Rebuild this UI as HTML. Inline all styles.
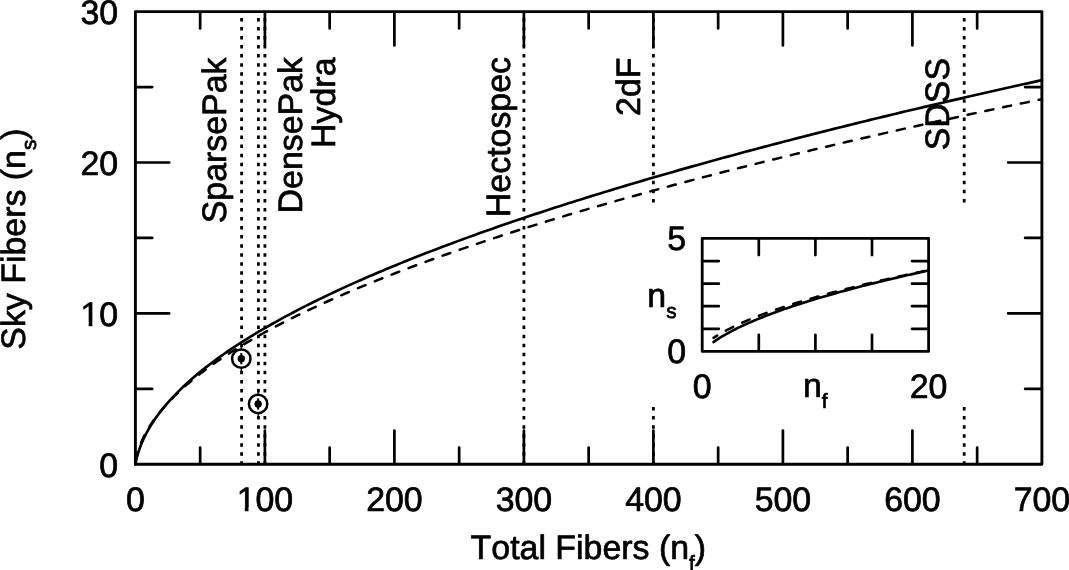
<!DOCTYPE html>
<html><head><meta charset="utf-8"><title>Sky Fibers vs Total Fibers</title>
<style>html,body{margin:0;padding:0;background:#fff}body{width:1069px;height:570px;overflow:hidden}</style></head>
<body>
<svg width="1069" height="570" viewBox="0 0 1069 570" style="display:block">
<rect width="1069" height="570" fill="#fff"/>
<g fill="none" stroke="#000" stroke-width="2.9">
<path d="M241.59 464.85V15" stroke-dasharray="3.5 5.55" stroke-width="2.8"/>
<path d="M258.43 464.85V15" stroke-dasharray="3.5 5.55" stroke-width="2.8"/>
<path d="M264.90 464.85V15" stroke-dasharray="3.5 5.55" stroke-width="2.8"/>
<path d="M523.90 464.85V15" stroke-dasharray="3.5 5.55" stroke-width="2.8"/>
<path d="M653.40 464.85V15" stroke-dasharray="3.5 5.55" stroke-width="2.8"/>
<path d="M964.20 464.85V15" stroke-dasharray="3.5 5.55" stroke-width="2.8"/>
</g>
<rect x="640" y="206" width="335" height="201" fill="#fff"/>
<g fill="none" stroke="#000" stroke-width="2.9">
<rect x="135.4" y="11.6" width="906.50" height="452.70" stroke-linejoin="round"/>
<path d="M200.15 463.30v-15.80M200.15 12.60v15.80M264.90 463.30v-32.80M264.90 12.60v32.80M329.65 463.30v-15.80M329.65 12.60v15.80M394.40 463.30v-32.80M394.40 12.60v32.80M459.15 463.30v-15.80M459.15 12.60v15.80M523.90 463.30v-32.80M523.90 12.60v32.80M588.65 463.30v-15.80M588.65 12.60v15.80M653.40 463.30v-32.80M653.40 12.60v32.80M718.15 463.30v-15.80M718.15 12.60v15.80M782.90 463.30v-32.80M782.90 12.60v32.80M847.65 463.30v-15.80M847.65 12.60v15.80M912.40 463.30v-32.80M912.40 12.60v32.80M977.15 463.30v-15.80M977.15 12.60v15.80M136.40 388.85h15.80M1040.90 388.85h-15.80M136.40 313.40h32.80M1040.90 313.40h-32.80M136.40 237.95h15.80M1040.90 237.95h-15.80M136.40 162.50h32.80M1040.90 162.50h-32.80M136.40 87.05h15.80M1040.90 87.05h-15.80" stroke-width="2.7" stroke-linecap="round"/>
<polyline points="135.40,464.30 135.84,461.93 136.28,459.84 136.72,457.96 137.16,456.23 137.59,454.62 138.03,453.11 138.47,451.68 138.91,450.32 139.35,449.02 139.79,447.77 140.23,446.58 140.67,445.42 141.11,444.30 141.55,443.22 141.98,442.17 142.42,441.14 142.86,440.15 143.30,439.18 143.74,438.23 144.18,437.30 144.62,436.39 145.06,435.51 145.50,434.63 145.94,433.78 146.37,432.94 146.81,432.12 147.25,431.31 147.69,430.51 148.13,429.73 148.57,428.96 149.01,428.20 149.45,427.45 149.89,426.71 150.33,425.98 150.76,425.27 151.20,424.56 151.64,423.86 152.08,423.17 152.52,422.49 152.96,421.81 153.40,421.15 153.84,420.49 154.28,419.83 154.72,419.19 155.15,418.55 155.59,417.92 156.03,417.30 156.47,416.68 156.91,416.07 157.35,415.46 157.79,414.86 158.23,414.26 158.67,413.67 159.11,413.09 159.54,412.51 159.98,411.93 160.42,411.36 160.86,410.80 161.30,410.24 165.73,404.82 170.15,399.78 174.58,395.03 179.00,390.54 183.43,386.26 187.85,382.18 192.28,378.25 196.70,374.48 201.13,370.83 205.55,367.31 209.98,363.89 214.40,360.57 218.83,357.34 223.25,354.19 227.68,351.12 232.10,348.12 236.53,345.19 240.95,342.32 245.38,339.51 249.80,336.76 254.23,334.06 258.65,331.40 263.08,328.80 267.50,326.24 271.93,323.72 276.35,321.24 280.78,318.80 285.20,316.39 289.63,314.02 294.05,311.69 298.48,309.38 302.90,307.11 307.33,304.86 311.75,302.65 316.18,300.46 320.60,298.30 325.03,296.16 329.45,294.05 333.88,291.97 338.31,289.90 342.73,287.86 347.16,285.84 351.58,283.84 356.01,281.86 360.43,279.90 364.86,277.96 369.28,276.04 373.71,274.13 378.13,272.25 382.56,270.38 386.98,268.52 391.41,266.69 395.83,264.86 400.26,263.06 404.68,261.27 409.11,259.49 413.53,257.73 417.96,255.98 422.38,254.25 426.81,252.52 431.23,250.82 435.66,249.12 440.08,247.44 444.51,245.77 448.93,244.11 453.36,242.46 457.78,240.82 462.21,239.20 466.63,237.58 471.06,235.98 475.48,234.39 479.91,232.80 484.33,231.23 488.76,229.67 493.18,228.11 497.61,226.57 502.03,225.04 506.46,223.51 510.88,222.00 515.31,220.49 519.74,218.99 524.16,217.50 528.59,216.02 533.01,214.55 537.44,213.08 541.86,211.62 546.29,210.18 550.71,208.73 555.14,207.30 559.56,205.87 563.99,204.46 568.41,203.04 572.84,201.64 577.26,200.24 581.69,198.85 586.11,197.47 590.54,196.09 594.96,194.72 599.39,193.36 603.81,192.00 608.24,190.65 612.66,189.31 617.09,187.97 621.51,186.64 625.94,185.31 630.36,183.99 634.79,182.68 639.21,181.37 643.64,180.07 648.06,178.77 652.49,177.48 656.91,176.19 661.34,174.91 665.76,173.64 670.19,172.37 674.61,171.10 679.04,169.84 683.46,168.59 687.89,167.34 692.32,166.10 696.74,164.86 701.17,163.62 705.59,162.39 710.02,161.17 714.44,159.95 718.87,158.73 723.29,157.52 727.72,156.31 732.14,155.11 736.57,153.91 740.99,152.72 745.42,151.53 749.84,150.35 754.27,149.17 758.69,147.99 763.12,146.82 767.54,145.65 771.97,144.49 776.39,143.33 780.82,142.17 785.24,141.02 789.67,139.87 794.09,138.73 798.52,137.59 802.94,136.45 807.37,135.32 811.79,134.19 816.22,133.07 820.64,131.94 825.07,130.83 829.49,129.71 833.92,128.60 838.34,127.49 842.77,126.39 847.19,125.29 851.62,124.19 856.04,123.10 860.47,122.01 864.89,120.92 869.32,119.84 873.75,118.76 878.17,117.68 882.60,116.61 887.02,115.54 891.45,114.47 895.87,113.40 900.30,112.34 904.72,111.28 909.15,110.23 913.57,109.18 918.00,108.13 922.42,107.08 926.85,106.04 931.27,105.00 935.70,103.96 940.12,102.92 944.55,101.89 948.97,100.86 953.40,99.84 957.82,98.81 962.25,97.79 966.67,96.77 971.10,95.76 975.52,94.74 979.95,93.73 984.37,92.73 988.80,91.72 993.22,90.72 997.65,89.72 1002.07,88.72 1006.50,87.73 1010.92,86.74 1015.35,85.75 1019.77,84.76 1024.20,83.78 1028.62,82.79 1033.05,81.81 1037.47,80.84 1041.90,79.86" stroke-width="2.65" stroke-linejoin="round" stroke-linecap="round" transform="translate(0,0.3)"/>
<polyline points="136.72,455.19 137.16,453.57 137.59,452.05 138.03,450.63 138.47,449.28 138.91,448.00 139.35,446.78 139.79,445.60 140.23,444.47 140.67,443.37 141.11,442.32 141.55,441.29 141.98,440.30 142.42,439.33 142.86,438.38 143.30,437.46 143.74,436.56 144.18,435.69 144.62,434.83 145.06,433.98 145.50,433.16 145.94,432.35 146.37,431.55 146.81,430.77 147.25,430.00 147.69,429.25 148.13,428.51 148.57,427.78 149.01,427.06 149.45,426.35 149.89,425.65 150.33,424.96 150.76,424.28 151.20,423.60 151.64,422.94 152.08,422.29 152.52,421.64 152.96,421.00 153.40,420.37 153.84,419.74 154.28,419.12 154.72,418.51 155.15,417.91 155.59,417.31 156.03,416.72 156.47,416.13 156.91,415.55 157.35,414.98 157.79,414.41 158.23,413.84 158.67,413.28 159.11,412.73 159.54,412.18 159.98,411.63 160.42,411.09 160.86,410.56 161.30,410.03 165.73,404.89 170.15,400.11 174.58,395.62 179.00,391.36 183.43,387.31 187.85,383.44 192.28,379.73 196.70,376.16 201.13,372.71 205.55,369.37 209.98,366.14 214.40,363.00 218.83,359.94 223.25,356.97 227.68,354.07 232.10,351.23 236.53,348.46 240.95,345.75 245.38,343.10 249.80,340.50 254.23,337.95 258.65,335.44 263.08,332.98 267.50,330.56 271.93,328.18 276.35,325.84 280.78,323.54 285.20,321.27 289.63,319.03 294.05,316.83 298.48,314.66 302.90,312.51 307.33,310.39 311.75,308.31 316.18,306.24 320.60,304.20 325.03,302.19 329.45,300.20 333.88,298.23 338.31,296.29 342.73,294.36 347.16,292.46 351.58,290.57 356.01,288.71 360.43,286.86 364.86,285.03 369.28,283.22 373.71,281.42 378.13,279.65 382.56,277.89 386.98,276.14 391.41,274.41 395.83,272.69 400.26,270.99 404.68,269.31 409.11,267.63 413.53,265.97 417.96,264.33 422.38,262.69 426.81,261.07 431.23,259.46 435.66,257.87 440.08,256.28 444.51,254.71 448.93,253.15 453.36,251.60 457.78,250.06 462.21,248.53 466.63,247.01 471.06,245.50 475.48,244.00 479.91,242.51 484.33,241.03 488.76,239.56 493.18,238.10 497.61,236.65 502.03,235.20 506.46,233.77 510.88,232.34 515.31,230.93 519.74,229.52 524.16,228.12 528.59,226.72 533.01,225.34 537.44,223.96 541.86,222.59 546.29,221.23 550.71,219.87 555.14,218.52 559.56,217.18 563.99,215.85 568.41,214.52 572.84,213.20 577.26,211.89 581.69,210.58 586.11,209.28 590.54,207.99 594.96,206.70 599.39,205.42 603.81,204.14 608.24,202.87 612.66,201.61 617.09,200.35 621.51,199.10 625.94,197.85 630.36,196.61 634.79,195.38 639.21,194.15 643.64,192.93 648.06,191.71 652.49,190.49 656.91,189.29 661.34,188.08 665.76,186.88 670.19,185.69 674.61,184.50 679.04,183.32 683.46,182.14 687.89,180.97 692.32,179.80 696.74,178.64 701.17,177.48 705.59,176.32 710.02,175.17 714.44,174.03 718.87,172.88 723.29,171.75 727.72,170.61 732.14,169.48 736.57,168.36 740.99,167.24 745.42,166.12 749.84,165.01 754.27,163.90 758.69,162.80 763.12,161.70 767.54,160.60 771.97,159.51 776.39,158.42 780.82,157.34 785.24,156.25 789.67,155.18 794.09,154.10 798.52,153.03 802.94,151.97 807.37,150.90 811.79,149.84 816.22,148.79 820.64,147.73 825.07,146.69 829.49,145.64 833.92,144.60 838.34,143.56 842.77,142.52 847.19,141.49 851.62,140.46 856.04,139.43 860.47,138.41 864.89,137.39 869.32,136.37 873.75,135.36 878.17,134.35 882.60,133.34 887.02,132.34 891.45,131.34 895.87,130.34 900.30,129.34 904.72,128.35 909.15,127.36 913.57,126.37 918.00,125.39 922.42,124.40 926.85,123.43 931.27,122.45 935.70,121.48 940.12,120.50 944.55,119.54 948.97,118.57 953.40,117.61 957.82,116.65 962.25,115.69 966.67,114.74 971.10,113.78 975.52,112.83 979.95,111.89 984.37,110.94 988.80,110.00 993.22,109.06 997.65,108.12 1002.07,107.19 1006.50,106.25 1010.92,105.32 1015.35,104.40 1019.77,103.47 1024.20,102.55 1028.62,101.63 1033.05,100.71 1037.47,99.79 1041.90,98.88" stroke-width="2.5" stroke-dasharray="8.2 9.93" stroke-dashoffset="4.78" stroke-linecap="round" stroke-linejoin="round" transform="translate(0,0.3)"/>
</g>
<path d="M241.29 343.57v30.2" stroke="#000" stroke-width="1.3"/>
<circle cx="241.29" cy="358.67" r="9.2" fill="#fff" stroke="#000" stroke-width="2.5"/>
<circle cx="241.29" cy="358.67" r="3.7" fill="#000"/>
<path d="M241.29 353.07v11.2" stroke="#000" stroke-width="2"/>
<path d="M258.12 388.84v30.2" stroke="#000" stroke-width="1.3"/>
<circle cx="258.12" cy="403.94" r="9.2" fill="#fff" stroke="#000" stroke-width="2.5"/>
<circle cx="258.12" cy="403.94" r="3.7" fill="#000"/>
<path d="M258.12 398.34v11.2" stroke="#000" stroke-width="2"/>
<g fill="none" stroke="#000" stroke-width="2.9">
<rect x="702.2" y="238.45" width="226.40" height="112.95" stroke-width="2.8" stroke-linejoin="round"/>
<path d="M758.80 350.40v-15.6M758.80 239.45v15.6M815.40 350.40v-15.6M815.40 239.45v15.6M872.00 350.40v-15.6M872.00 239.45v15.6M703.20 328.81h15.6M927.60 328.81h-15.6M703.20 306.22h15.6M927.60 306.22h-15.6M703.20 283.63h15.6M927.60 283.63h-15.6M703.20 261.04h15.6M927.60 261.04h-15.6" stroke-width="2.7" stroke-linecap="round"/>
<polyline points="713.52,342.04 716.24,340.18 718.97,338.41 721.69,336.72 724.41,335.11 727.13,333.56 729.86,332.07 732.58,330.63 735.30,329.24 738.02,327.89 740.75,326.58 743.47,325.30 746.19,324.06 748.91,322.84 751.64,321.66 754.36,320.50 757.08,319.36 759.80,318.25 762.53,317.16 765.25,316.09 767.97,315.04 770.69,314.01 773.42,312.99 776.14,311.99 778.86,311.01 781.58,310.05 784.31,309.09 787.03,308.15 789.75,307.23 792.47,306.32 795.20,305.41 797.92,304.53 800.64,303.65 803.36,302.78 806.09,301.92 808.81,301.08 811.53,300.24 814.25,299.41 816.98,298.59 819.70,297.79 822.42,296.98 825.14,296.19 827.87,295.41 830.59,294.63 833.31,293.86 836.03,293.10 838.76,292.34 841.48,291.59 844.20,290.85 846.92,290.12 849.65,289.39 852.37,288.67 855.09,287.95 857.81,287.24 860.54,286.54 863.26,285.84 865.98,285.14 868.70,284.46 871.43,283.77 874.15,283.10 876.87,282.42 879.59,281.76 882.32,281.09 885.04,280.43 887.76,279.78 890.48,279.13 893.21,278.49 895.93,277.85 898.65,277.21 901.37,276.58 904.10,275.95 906.82,275.33 909.54,274.71 912.26,274.09 914.99,273.48 917.71,272.87 920.43,272.26 923.15,271.66 925.88,271.06 928.60,270.47" stroke-width="2.65" stroke-linecap="round"/>
<polyline points="713.52,337.89 716.24,336.14 718.97,334.48 721.69,332.90 724.41,331.38 727.13,329.92 729.86,328.52 732.58,327.16 735.30,325.84 738.02,324.57 740.75,323.33 743.47,322.12 746.19,320.94 748.91,319.79 751.64,318.67 754.36,317.57 757.08,316.50 759.80,315.45 762.53,314.42 765.25,313.40 767.97,312.41 770.69,311.43 773.42,310.47 776.14,309.52 778.86,308.59 781.58,307.68 784.31,306.77 787.03,305.88 789.75,305.01 792.47,304.14 795.20,303.29 797.92,302.44 800.64,301.61 803.36,300.79 806.09,299.98 808.81,299.17 811.53,298.38 814.25,297.60 816.98,296.82 819.70,296.05 822.42,295.29 825.14,294.54 827.87,293.80 830.59,293.06 833.31,292.33 836.03,291.61 838.76,290.89 841.48,290.18 844.20,289.48 846.92,288.78 849.65,288.09 852.37,287.41 855.09,286.73 857.81,286.05 860.54,285.38 863.26,284.72 865.98,284.06 868.70,283.41 871.43,282.76 874.15,282.12 876.87,281.48 879.59,280.85 882.32,280.22 885.04,279.60 887.76,278.98 890.48,278.36 893.21,277.75 895.93,277.14 898.65,276.54 901.37,275.94 904.10,275.35 906.82,274.75 909.54,274.17 912.26,273.58 914.99,273.00 917.71,272.43 920.43,271.85 923.15,271.28 925.88,270.71 928.60,270.15" stroke-width="2.5" stroke-dasharray="8.2 9.93" stroke-dashoffset="3.8" stroke-linecap="round"/>
</g>
<g font-family="'Liberation Sans', Arial, Helvetica, sans-serif" font-size="33.9" fill="#000" stroke="#000" stroke-width="0.7" stroke-linejoin="round" style="font-kerning:none;font-variant-ligatures:none" text-rendering="geometricPrecision">
<text x="135.40" y="511.3" text-anchor="middle">0</text>
<text x="264.90" y="511.3" text-anchor="middle">100</text>
<text x="394.40" y="511.3" text-anchor="middle">200</text>
<text x="523.90" y="511.3" text-anchor="middle">300</text>
<text x="653.40" y="511.3" text-anchor="middle">400</text>
<text x="782.90" y="511.3" text-anchor="middle">500</text>
<text x="912.40" y="511.3" text-anchor="middle">600</text>
<text x="1041.90" y="511.3" text-anchor="middle">700</text>
<text x="118.2" y="476.80" text-anchor="end">0</text>
<text x="118.2" y="325.90" text-anchor="end">10</text>
<text x="118.2" y="175.00" text-anchor="end">20</text>
<text x="118.2" y="24.10" text-anchor="end">30</text>
<text x="470.6" y="559.3">Total Fibers (n<tspan font-size="20.7" dy="10.9">f</tspan><tspan dy="-10.9">)</tspan></text>
<text transform="translate(25.2,349.7) rotate(-90)">Sky Fibers (n<tspan font-size="20.7" dy="10.9">s</tspan><tspan dy="-10.9">)</tspan></text>
<text transform="translate(226.3,57.5) rotate(-90)" text-anchor="end">SparsePak</text>
<text transform="translate(302.4,57) rotate(-90)" text-anchor="end">DensePak</text>
<text transform="translate(335.1,57.5) rotate(-90)" text-anchor="end">Hydra</text>
<text transform="translate(510.1,57) rotate(-90)" text-anchor="end">Hectospec</text>
<text transform="translate(639.6,57.5) rotate(-90)" text-anchor="end">2dF</text>
<text transform="translate(949.3,58) rotate(-90)" text-anchor="end">SDSS</text>
<text x="686" y="249.7" text-anchor="end">5</text>
<text x="686" y="363.1" text-anchor="end">0</text>
<text x="702.2" y="397.7" text-anchor="middle">0</text>
<text x="928.5" y="397.7" text-anchor="middle">20</text>
<text x="803" y="397.4">n<tspan font-size="20.7" dy="10.9">f</tspan></text>
<text x="647.3" y="306.7">n<tspan font-size="20.7" dy="10.9">s</tspan></text>
</g>
<rect x="81.68" y="322.17" width="6.99" height="5.13" fill="#fff"/>
<rect x="92.36" y="322.17" width="6.73" height="5.13" fill="#fff"/>
<rect x="237.80" y="507.57" width="6.99" height="5.13" fill="#fff"/>
<rect x="248.49" y="507.57" width="6.73" height="5.13" fill="#fff"/>
</svg>
</body></html>
